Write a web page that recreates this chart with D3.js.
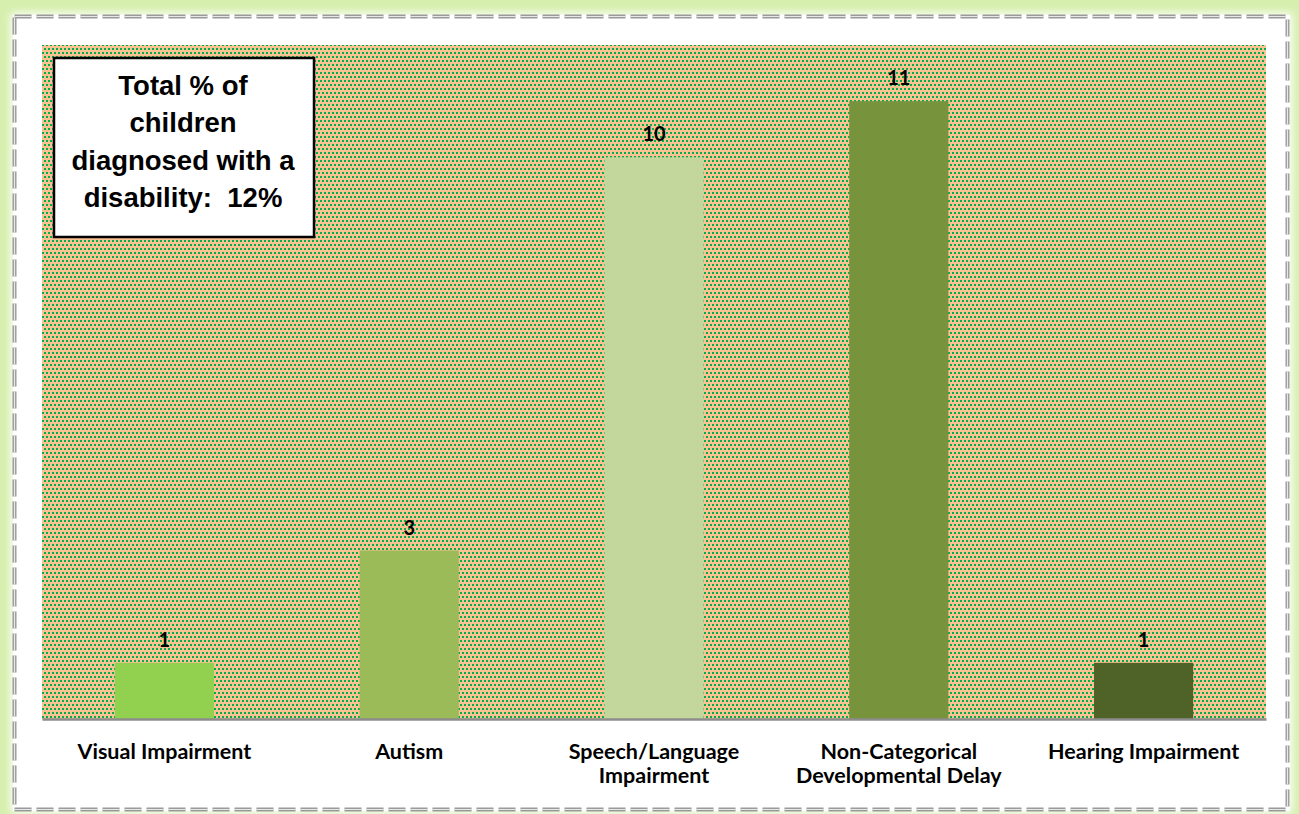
<!DOCTYPE html>
<html><head><meta charset="utf-8">
<script src="https://cdn.jsdelivr.net/npm/d3@7"></script>
<style>html,body{margin:0;padding:0;background:#fff;}svg{display:block;}</style>
</head><body>
<script>
const categories = ["Visual Impairment", "Autism", "Speech/Language Impairment", "Non-Categorical Developmental Delay", "Hearing Impairment"];
const categoryLines = [["Visual Impairment"], ["Autism"], ["Speech/Language", "Impairment"], ["Non-Categorical", "Developmental Delay"], ["Hearing Impairment"]];
const values = [1, 3, 10, 11, 1];
const barColors = ["#92d050", "#9bbb59", "#c3d69b", "#77933c", "#4f6228"];
const noteLines = ["Total % of", "children", "diagnosed with a", "disability:\u00a0 12%"];

const W = 1299, H = 814;
const svg = d3.select("body").append("svg").attr("width", W).attr("height", H);
const defs = svg.append("defs");
const pat = defs.append("pattern").attr("id", "dots").attr("patternUnits", "userSpaceOnUse")
  .attr("width", 4).attr("height", 8);
pat.append("rect").attr("width", 4).attr("height", 8).attr("fill", "#fbc190");
pat.append("rect").attr("x", 0).attr("y", 0).attr("width", 2).attr("height", 2).attr("fill", "#00b050");
pat.append("rect").attr("x", 2).attr("y", 4).attr("width", 2).attr("height", 2).attr("fill", "#00b050");
const blur = defs.append("filter").attr("id", "glow").attr("x", "-5%").attr("y", "-5%").attr("width", "110%").attr("height", "110%");
blur.append("feGaussianBlur").attr("stdDeviation", 4);

// outer glow
svg.append("rect").attr("x", 0).attr("y", 0).attr("width", W).attr("height", H).attr("fill", "#d6efae");
svg.append("rect").attr("x", 11).attr("y", 13).attr("width", 1281).attr("height", 800)
  .attr("fill", "#fff").attr("filter", "url(#glow)");
svg.append("rect").attr("x", 13).attr("y", 15).attr("width", 1277).attr("height", 796).attr("fill", "#fff");
// dashed double border
const bx = 14.5, by = 16.5, bw = 1273, bh = 793;
svg.append("rect").attr("x", bx).attr("y", by).attr("width", bw).attr("height", bh)
  .attr("fill", "none").attr("stroke", "#9a9a9a").attr("stroke-width", 4).attr("stroke-dasharray", "17 5");
svg.append("rect").attr("x", bx).attr("y", by).attr("width", bw).attr("height", bh)
  .attr("fill", "none").attr("stroke", "#e8e8e8").attr("stroke-width", 1.2).attr("stroke-dasharray", "17 5");

// plot area
const pl = 42, pr = 1266, pt = 45, pb = 719;
svg.append("rect").attr("x", pl).attr("y", pt).attr("width", pr - pl).attr("height", pb - pt).attr("fill", "url(#dots)");

const x = d3.scaleBand().domain(categories).range([pl, pr]).paddingInner(0.595).paddingOuter(0.2975);
const y = d3.scaleLinear().domain([0, 12]).range([pb, pt]);

const g = svg.append("g");
g.selectAll("rect.bar").data(values).join("rect").attr("class", "bar")
  .attr("x", (d, i) => x(categories[i]))
  .attr("width", x.bandwidth())
  .attr("y", d => y(d))
  .attr("height", d => y(0) - y(d))
  .attr("fill", (d, i) => barColors[i]);

g.selectAll("text.val").data(values).join("text").attr("class", "val")
  .attr("x", (d, i) => x(categories[i]) + x.bandwidth() / 2)
  .attr("y", d => y(d) - 16)
  .attr("text-anchor", "middle")
  .attr("font-family", "Lato, 'Open Sans', sans-serif").attr("font-weight", "bold").attr("font-size", 20)
  .attr("fill", "#000").text(d => d);

// x axis
const xAxis = svg.append("g").attr("transform", `translate(0,${pb})`)
  .call(d3.axisBottom(x).tickSize(0).tickFormat(""));
xAxis.select(".domain").attr("stroke", "#8c8c8c").attr("stroke-width", 2.5);

categoryLines.forEach((lines, i) => {
  const t = svg.append("text")
    .attr("x", x(categories[i]) + x.bandwidth() / 2)
    .attr("y", 759).attr("text-anchor", "middle")
    .attr("font-family", "Lato, 'Open Sans', sans-serif").attr("font-weight", "bold").attr("font-size", 21.5)
    .attr("fill", "#000");
  lines.forEach((l, j) => t.append("tspan").attr("x", x(categories[i]) + x.bandwidth() / 2)
    .attr("dy", j === 0 ? 0 : 24).text(l));
});

// note box
svg.append("rect").attr("x", 54).attr("y", 58).attr("width", 260).attr("height", 179)
  .attr("fill", "#fff").attr("stroke", "#000").attr("stroke-width", 2.5);
const nt = svg.append("text").attr("text-anchor", "middle")
  .attr("font-family", "'Liberation Sans', Arial, sans-serif").attr("font-weight", "bold").attr("font-size", 27.5)
  .attr("fill", "#000");
noteLines.forEach((l, j) => nt.append("tspan").attr("x", 183).attr("y", 95 + j * 37.3).text(l));
</script>
</body></html>
